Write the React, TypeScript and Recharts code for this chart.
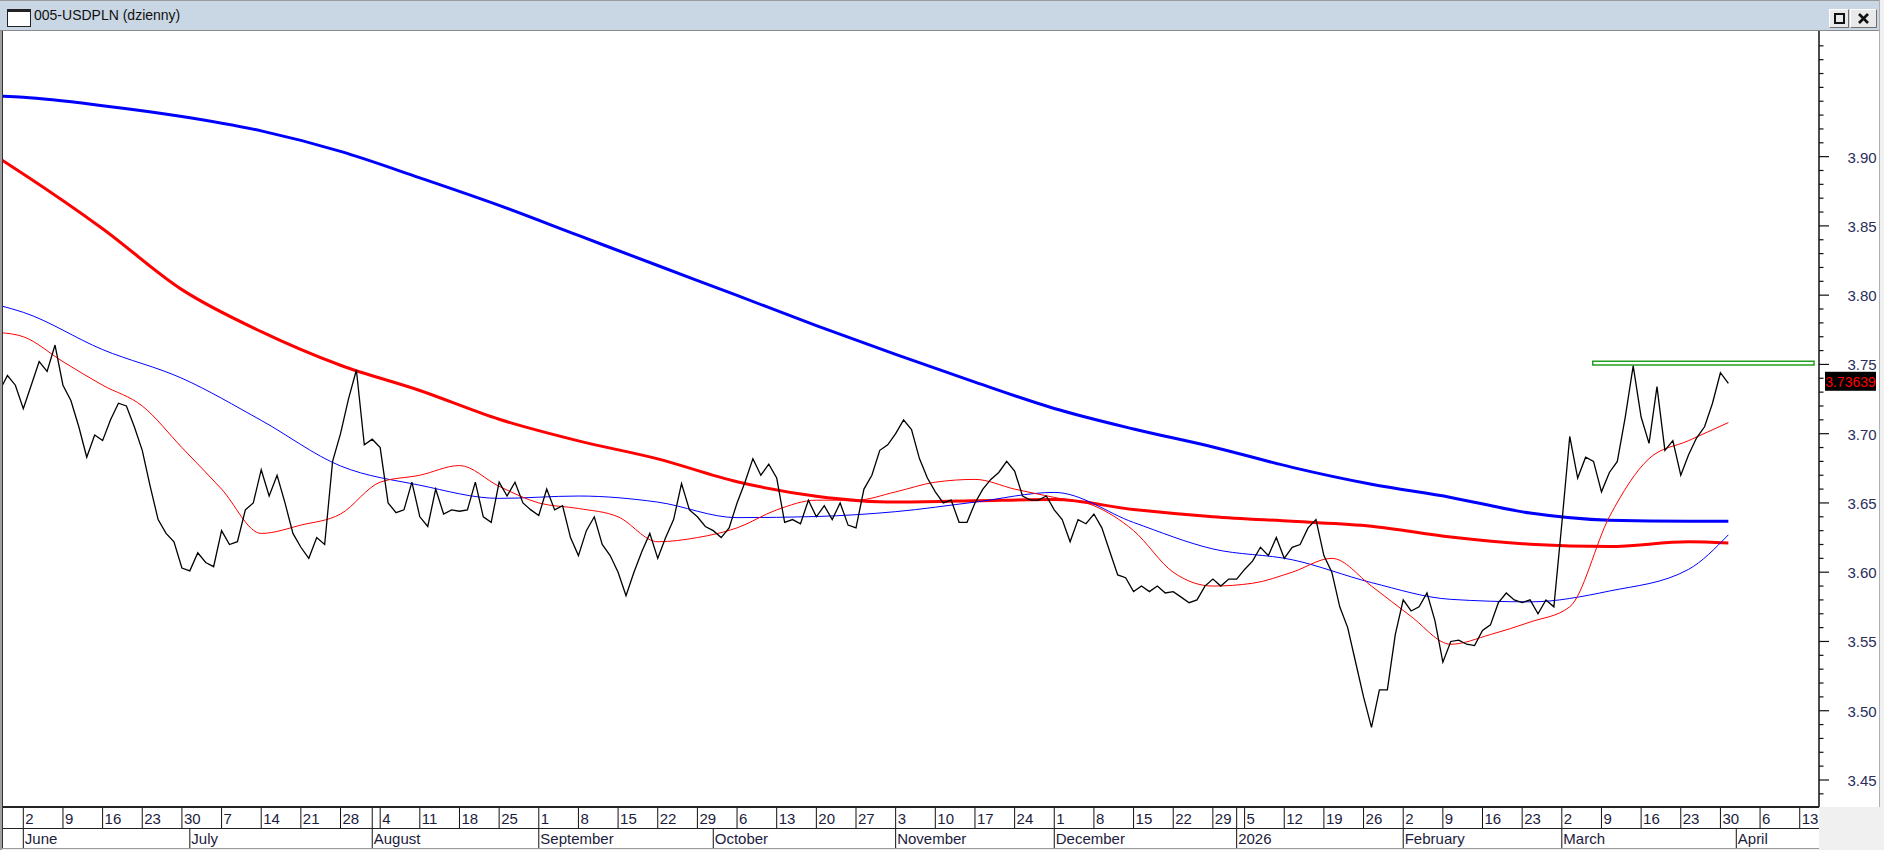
import React from 'react';
import { LineChart, Line, XAxis, YAxis, ReferenceArea, ReferenceLine } from 'recharts';

// trading-day calendar, index 0 = Mon 2 June 2025 (first day drawn is index -3)
const FIRST_INDEX = -3;
const CAL_START = Date.UTC(2025, 4, 28);
const HOLIDAYS = ['2026-01-01'];
const MONTHS = ['January', 'February', 'March', 'April', 'May', 'June', 'July', 'August', 'September', 'October', 'November', 'December'];

// daily closes, index -3 .. 215
const CLOSES = [
  3.731, 3.742, 3.735,
  3.718, 3.735, 3.752, 3.745, 3.764,
  3.735, 3.724, 3.705, 3.683, 3.699,
  3.695, 3.710, 3.722, 3.720, 3.705,
  3.688, 3.662, 3.638, 3.628, 3.622,
  3.603, 3.601, 3.614, 3.607, 3.604,
  3.630, 3.620, 3.622, 3.645, 3.650,
  3.674, 3.655, 3.670, 3.650, 3.628,
  3.618, 3.610, 3.625, 3.620, 3.680,
  3.700, 3.725, 3.746, 3.692, 3.696,
  3.690, 3.650, 3.643, 3.645, 3.665,
  3.640, 3.633, 3.660, 3.642, 3.645,
  3.644, 3.645, 3.665, 3.640, 3.636,
  3.665, 3.655, 3.665, 3.650, 3.645,
  3.641, 3.660, 3.645, 3.648, 3.625,
  3.612, 3.630, 3.640, 3.620, 3.612,
  3.600, 3.583, 3.600, 3.615, 3.628,
  3.610, 3.625, 3.638, 3.664, 3.645,
  3.640, 3.633, 3.630, 3.625, 3.632,
  3.650, 3.665, 3.682, 3.670, 3.678,
  3.668, 3.636, 3.638, 3.635, 3.652,
  3.640, 3.648, 3.638, 3.650, 3.634,
  3.632, 3.660, 3.670, 3.688, 3.692,
  3.700, 3.710, 3.703, 3.682, 3.668,
  3.658, 3.650, 3.652, 3.636, 3.636,
  3.650, 3.660, 3.667, 3.672, 3.680,
  3.673, 3.655, 3.652, 3.652, 3.655,
  3.645, 3.638, 3.622, 3.638, 3.635,
  3.642, 3.632, 3.615, 3.598, 3.596,
  3.586, 3.590, 3.586, 3.590, 3.585,
  3.586, 3.582, 3.578, 3.580, 3.590,
  3.595, 3.590, 3.595, 3.595,
  3.602, 3.608, 3.618, 3.612, 3.625,
  3.610, 3.618, 3.620, 3.632, 3.638,
  3.612, 3.600, 3.575, 3.560, 3.535,
  3.510, 3.488, 3.515, 3.515, 3.555,
  3.580, 3.572, 3.575, 3.585, 3.565,
  3.535, 3.550, 3.551, 3.548, 3.547,
  3.558, 3.562, 3.578, 3.585, 3.580,
  3.578, 3.580, 3.570, 3.580, 3.575,
  3.635, 3.698, 3.668, 3.683, 3.680,
  3.658, 3.672, 3.680, 3.712, 3.749,
  3.712, 3.693, 3.734, 3.688, 3.695,
  3.670, 3.685, 3.697, 3.705, 3.722,
  3.744, 3.73639,
];

const MA_LONG_DAYS = [-3, 0, 10, 20, 30, 40, 50, 60, 70, 80, 90, 100, 110, 120, 130, 140, 150, 160, 170, 180, 190, 200, 210, 215];
const MA200 = [3.9437, 3.9428, 3.9368, 3.929, 3.9186, 3.9038, 3.8847, 3.8648, 3.8431, 3.8214, 3.7998, 3.778, 3.7572, 3.7372, 3.7182, 3.7034, 3.6904, 3.6757, 3.6635, 3.654, 3.6427, 3.6375, 3.6367, 3.6367];
const MA100 = [3.8986, 3.8875, 3.848, 3.804, 3.7737, 3.7494, 3.7312, 3.7104, 3.6948, 3.6818, 3.6653, 3.6549, 3.6506, 3.6515, 3.6524, 3.6453, 3.6401, 3.6367, 3.6332, 3.6254, 3.6202, 3.6185, 3.622, 3.6211];
const MA50 = [3.7926, 3.7876, 3.7607, 3.74, 3.7096, 3.6767, 3.6628, 3.6533, 3.655, 3.6506, 3.6394, 3.6402, 3.6437, 3.6506, 3.6576, 3.6359, 3.6168, 3.609, 3.5925, 3.5804, 3.5786, 3.5864, 3.6021, 3.627];
const MA_SHORT_DAYS = [-3, 0, 5, 10, 15, 20, 25, 30, 35, 40, 45, 50, 55, 60, 65, 70, 75, 80, 85, 90, 95, 100, 105, 110, 115, 120, 125, 130, 135, 140, 145, 150, 155, 160, 165, 170, 175, 180, 185, 190, 195, 200, 205, 210, 215];
const MA20 = [3.773, 3.770, 3.752, 3.735, 3.720, 3.690, 3.660, 3.628, 3.634, 3.642, 3.665, 3.670, 3.677, 3.662, 3.650, 3.646, 3.640, 3.622, 3.625, 3.632, 3.645, 3.652, 3.652, 3.658, 3.665, 3.667, 3.660, 3.654, 3.648, 3.630, 3.600, 3.590, 3.592, 3.600, 3.610, 3.590, 3.568, 3.548, 3.555, 3.564, 3.575, 3.640, 3.682, 3.695, 3.708];

const Y_LABELS = [3.45, 3.5, 3.55, 3.6, 3.65, 3.7, 3.75, 3.8, 3.85, 3.9];
const ZONE = { x1: 197.9, x2: 225.8, y1: 3.7496, y2: 3.7522 };

const W = 1884;
const H = 850;
const AXIS_X = 1819;
const ROW_TOP = 807;
const ROW_MID = 828;
const ROW_BOT = 848;
const FONT = '"Liberation Sans", Arial, sans-serif';

const days: Date[] = [];
{
  const d = new Date(CAL_START);
  while (days.length < 240) {
    const wd = d.getUTCDay();
    if (wd !== 0 && wd !== 6 && !HOLIDAYS.includes(d.toISOString().slice(0, 10))) days.push(new Date(d));
    d.setUTCDate(d.getUTCDate() + 1);
  }
}
const dayAt = (i: number) => days[i - FIRST_INDEX];
const LAST_INDEX = 226;

const mondays: number[] = [];
const monthStarts: number[] = [];
for (let i = FIRST_INDEX + 1; i <= LAST_INDEX; i++) {
  if (dayAt(i).getUTCDay() === 1) mondays.push(i);
  if (dayAt(i).getUTCMonth() !== dayAt(i - 1).getUTCMonth()) monthStarts.push(i);
}
const xTicks = Array.from(new Set([...mondays, ...monthStarts])).sort((a, b) => a - b);
const yTicks = Array.from({ length: 55 }, (_, k) => +(3.44 + k * 0.01).toFixed(2));

const closeData = CLOSES.map((v, k) => ({ i: FIRST_INDEX + k, v }));
const series = (idx: number[], vals: number[]) => idx.map((i, k) => ({ i, v: vals[k] }));
const lastClose = CLOSES[CLOSES.length - 1];

const XTick = (props: any) => {
  const { x, payload } = props;
  const i = payload.value as number;
  const d = dayAt(i);
  const isMon = mondays.includes(i);
  const isMonth = monthStarts.includes(i);
  const m = d.getUTCMonth();
  const monthLabel = m === 0 ? String(d.getUTCFullYear()) : MONTHS[m];
  return (
    <g>
      {isMon && (
        <>
          <line x1={x} x2={x} y1={ROW_TOP} y2={ROW_MID} stroke="#111" />
          <text x={x + 2} y={824} fontSize={15} fontFamily={FONT} fill="#1c1c3c">{d.getUTCDate()}</text>
        </>
      )}
      {isMonth && (
        <>
          <line x1={x} x2={x} y1={d.getUTCDay() === 5 ? ROW_TOP : ROW_MID} y2={ROW_BOT} stroke="#111" />
          <text x={x + 1.5} y={844} fontSize={15} fontFamily={FONT} fill="#1c1c3c">{monthLabel}</text>
        </>
      )}
    </g>
  );
};

const YTick = (props: any) => {
  const { y, payload } = props;
  const v = payload.value as number;
  const major = Y_LABELS.some((l) => Math.abs(l - v) < 1e-6);
  return (
    <g>
      <line x1={AXIS_X} x2={AXIS_X + (major ? 10 : 4.5)} y1={y} y2={y} stroke="#111" strokeWidth={1.2} />
      {major && (
        <text x={1847.5} y={y + 6} fontSize={15} fontFamily={FONT} fill="#2b2d5a">{v.toFixed(2)}</text>
      )}
    </g>
  );
};

const PriceTag = (props: any) => {
  const { viewBox } = props;
  const x = viewBox.x + viewBox.width + 6;
  const y = viewBox.y;
  return (
    <g>
      <rect x={x} y={y - 11.5} width={51} height={19} fill="#000" />
      <text x={x + 25.5} y={y + 3.5} fontSize={14} fontFamily={FONT} fill="#ff0000" textAnchor="middle">
        {lastClose.toFixed(5)}
      </text>
    </g>
  );
};

const box = (s: React.CSSProperties): React.CSSProperties => ({ position: 'absolute', boxSizing: 'border-box', ...s });

const btn: React.CSSProperties = {
  background: '#e9e9e9',
  borderTop: '1px solid #fff',
  borderLeft: '1px solid #fff',
  borderRight: '1px solid #6f6f6f',
  borderBottom: '1px solid #6f6f6f',
};

export default function App() {
  return (
    <div style={{ position: 'fixed', left: 0, top: 0, width: W, height: H, background: '#f0f0f0', overflow: 'hidden', fontFamily: FONT }}>
      {/* window client area */}
      <div style={box({ left: 0, top: 0, width: 1880, height: ROW_TOP, background: '#fff' })} />
      <div style={box({ left: 2, top: ROW_TOP, width: AXIS_X - 2, height: ROW_BOT - ROW_TOP, background: '#fff' })} />

      <div style={{ position: 'absolute', left: 0, top: 0 }}>
        <LineChart width={W} height={H} margin={{ top: 31, right: 0, bottom: 2, left: 3 }}>
          <XAxis
            type="number"
            dataKey="i"
            domain={[-2.56, 226.43]}
            allowDataOverflow
            ticks={xTicks}
            interval={0}
            height={41}
            axisLine={false}
            tickLine={false}
            tick={<XTick />}
          />
          <YAxis
            orientation="right"
            type="number"
            domain={[3.4305, 3.9907]}
            allowDataOverflow
            ticks={yTicks}
            interval={0}
            width={65}
            axisLine={{ stroke: '#111', strokeWidth: 1.5 }}
            tickLine={false}
            tick={<YTick />}
          />
          <ReferenceArea
            x1={ZONE.x1}
            x2={ZONE.x2}
            y1={ZONE.y1}
            y2={ZONE.y2}
            fill="#fff"
            fillOpacity={1}
            stroke="#22a022"
            strokeWidth={1.5}
            ifOverflow="visible"
          />
          <Line data={series(MA_LONG_DAYS, MA200)} dataKey="v" type="monotone" stroke="#0000ff" strokeWidth={3} dot={false} isAnimationActive={false} />
          <Line data={series(MA_LONG_DAYS, MA100)} dataKey="v" type="monotone" stroke="#ff0000" strokeWidth={3} dot={false} isAnimationActive={false} />
          <Line data={series(MA_LONG_DAYS, MA50)} dataKey="v" type="monotone" stroke="#0000ff" strokeWidth={1} dot={false} isAnimationActive={false} />
          <Line data={series(MA_SHORT_DAYS, MA20)} dataKey="v" type="monotone" stroke="#ff0000" strokeWidth={1} dot={false} isAnimationActive={false} />
          <Line data={closeData} dataKey="v" type="linear" stroke="#000" strokeWidth={1.3} dot={false} isAnimationActive={false} />
          <ReferenceLine y={lastClose} stroke="none" ifOverflow="visible" label={{ content: (p: any) => <PriceTag {...p} /> }} />
        </LineChart>
      </div>

      {/* axis frame lines */}
      <div style={box({ left: 2, top: ROW_TOP - 1, width: AXIS_X - 2, height: 2, background: '#222' })} />
      <div style={box({ left: 2, top: ROW_MID, width: AXIS_X - 2, height: 1, background: '#222' })} />
      <div style={box({ left: 2, top: ROW_BOT, width: AXIS_X - 2, height: 1, background: '#9a9a9a' })} />
      <div style={box({ left: 2, top: 31, width: 1, height: ROW_BOT - 31, background: '#333' })} />
      <div style={box({ left: 0, top: 0, width: 2, height: H, background: '#a0a0a0' })} />

      {/* title bar */}
      <div style={box({ left: 0, top: 0, width: 1880, height: 31, background: '#c9d6e3', borderTop: '1px solid #9a9a9a', borderBottom: '1px solid #8a8a8a' })}>
        <div style={box({ left: 7, top: 8, width: 24, height: 18, background: '#fff', border: '1px solid #222', borderTop: '3px solid #222' })} />
        <div style={box({ left: 34, top: 6, fontSize: 14, color: '#111', whiteSpace: 'nowrap' })}>005-USDPLN (dzienny)</div>
        <div style={box({ left: 1829, top: 8, width: 20, height: 19, ...btn })}>
          <div style={box({ left: 4, top: 3, width: 11, height: 11, border: '2px solid #111', borderTopWidth: 2 })} />
        </div>
        <div style={box({ left: 1850, top: 8, width: 27, height: 19, ...btn })}>
          <svg width={25} height={17} style={{ position: 'absolute', left: 0, top: 0 }}>
            <line x1={8} y1={4} x2={17} y2={13} stroke="#111" strokeWidth={2.6} />
            <line x1={17} y1={4} x2={8} y2={13} stroke="#111" strokeWidth={2.6} />
          </svg>
        </div>
      </div>
      <div style={box({ left: 1879, top: 0, width: 1, height: ROW_TOP, background: '#b0b0b0' })} />
    </div>
  );
}
